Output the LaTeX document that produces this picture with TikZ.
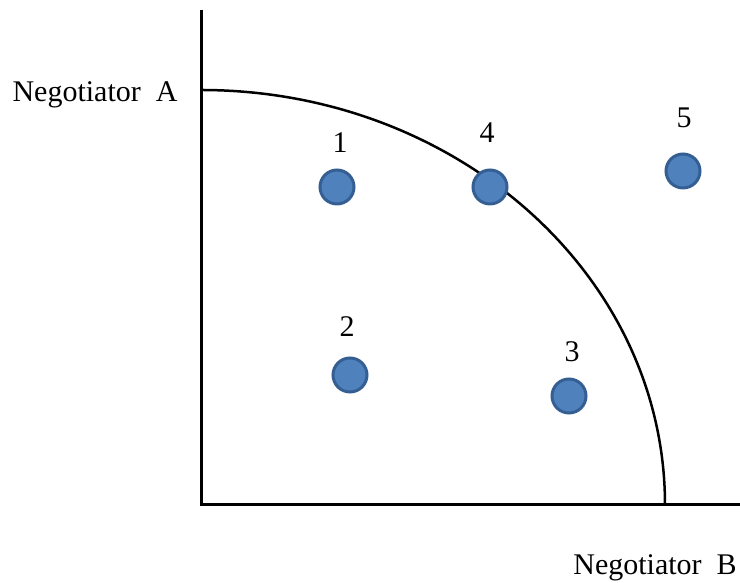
\documentclass[tikz,border=0pt]{standalone}
\usepackage{fontspec}
\setmainfont{Liberation Serif}
\definecolor{dotfill}{HTML}{4F81BD}
\definecolor{dotedge}{HTML}{355F93}
\begin{document}
\begin{tikzpicture}[x=1pt,y=1pt,
  dot/.style={circle,fill=dotfill,draw=dotedge,line width=3pt,minimum size=34pt,inner sep=0pt},
  lbl/.style={font=\fontsize{30}{31}\selectfont,inner sep=0pt},
  axis/.style={line width=3pt}]
\useasboundingbox (0,0) rectangle (740,583);
% axes
\coordinate (top) at (201,573);
\coordinate (origin) at (201,78);
\coordinate (right) at (740,78);
\coordinate (arcstart) at (665,78);
\draw[axis] (top) -- (origin) -- (right);
\draw[line width=2.5pt] (arcstart) arc[start angle=0,end angle=90,x radius=464,y radius=415];
% points
\node[dot] (p1) at (337,396) {};
\node[dot] (p2) at (350,208) {};
\node[dot] (p3) at (569,187) {};
\node[dot] (p4) at (490,396) {};
\node[dot] (p5) at (683,412) {};
% labels
\node[lbl] (l1) at (340,440) {1};
\node[lbl] (l2) at (347,256) {2};
\node[lbl] (l3) at (572,231) {3};
\node[lbl] (l4) at (487,450) {4};
\node[lbl] (l5) at (684,465) {5};
\node[lbl] (na) at (95,488) {Negotiator\ \ A};
\node[lbl] (nb) at (655,15) {Negotiator\ \ B};
\end{tikzpicture}
\end{document}
